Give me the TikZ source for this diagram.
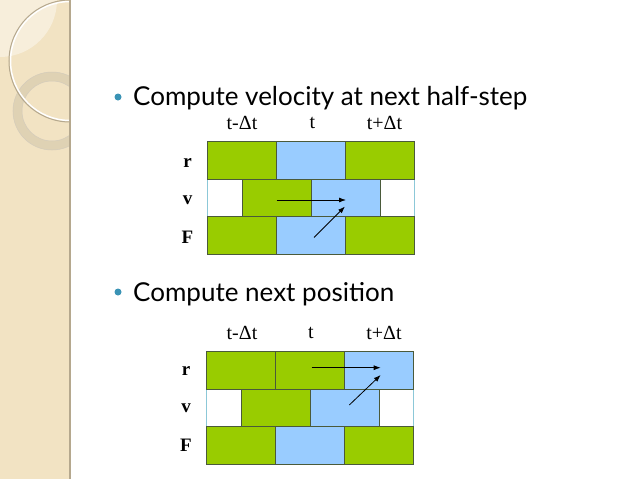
\documentclass[tikz,border=0pt]{standalone}
\usepackage{fontspec}
\setmainfont{Liberation Serif}
\newfontfamily\bulletfont{Lato}
\usetikzlibrary{arrows.meta}
\definecolor{cellGreen}{HTML}{99CC00}
\definecolor{cellBlue}{HTML}{99CCFF}
\definecolor{cellLine}{HTML}{4A5A3A}
\definecolor{tableEdge}{HTML}{8CC8D8}
\definecolor{strip}{HTML}{F2E3C3}
\definecolor{stripLight}{HTML}{F7EEDB}
\definecolor{stripEdge}{HTML}{B5A88E}
\definecolor{ringTan}{HTML}{D8CBAE}
\definecolor{bulletDot}{HTML}{3A93B5}
\tikzset{
  greenCell/.style={fill=cellGreen, draw=cellLine, line width=0.8pt},
  blueCell/.style={fill=cellBlue, draw=cellLine, line width=0.8pt},
  whiteCell/.style={fill=white, draw=tableEdge, line width=0.8pt},
  rowLab/.style={font=\fontsize{19}{19}\selectfont\bfseries},
  colLab/.style={font=\fontsize{20}{20}\selectfont},
  bulletText/.style={font=\bulletfont\fontsize{26}{26}\selectfont, anchor=base west, inner sep=0pt},
  flow/.style={-{Latex[length=7pt,width=5pt]}, line width=0.8pt, draw=black}
}

\begin{document}
\begin{tikzpicture}[x=1pt,y=-1pt]
\useasboundingbox (0,0) rectangle (638,479);
% side strip
\fill[strip] (0,0) rectangle (70,479);
\begin{scope}
\clip (0,0) rectangle (70,479);
\fill[stripLight] (0,0) circle (57);
\draw[ringTan, line width=9pt, opacity=0.7] (52,111) circle (34.5);
\draw[stripEdge!60, line width=0.5pt] (52,111) circle (39) (52,111) circle (30);
\draw[white, line width=1.5pt] (70,61) circle (59.5);
\draw[stripEdge, line width=1pt] (70,61) circle (61);
\end{scope}
\draw[stripEdge, line width=1.5pt] (70,0) -- (70,479);

% first bullet
\fill[bulletDot] (118,97) circle (3.5);
\node[bulletText] (headA) at (133,105) {Compute velocity at next half-step};

\begin{scope}[shift={(207.5,141.5)}]
% v row
\draw[whiteCell] (0,37.5) rectangle (35,75);
\draw[whiteCell] (173,37.5) rectangle (207,75);
\draw[greenCell] (35,37.5) rectangle (104,75);
\draw[blueCell] (104,37.5) rectangle (173,75);
% r row
\draw[greenCell] (0,0) rectangle (69,37.5);
\draw[blueCell] (69,0) rectangle (138,37.5);
\draw[greenCell] (138,0) rectangle (207,37.5);
% F row
\draw[greenCell] (0,75) rectangle (69,112.5);
\draw[blueCell] (69,75) rectangle (138,112.5);
\draw[greenCell] (138,75) rectangle (207,112.5);
\node[colLab] (colA1) at (34.5,-19) {t-Δt};
\node[colLab] (colA2) at (105,-19) {t};
\node[colLab] (colA3) at (177,-19) {t+Δt};
\node[rowLab] (rowAr) at (-20,21.5) {r};
\node[rowLab] (rowAv) at (-20,58.5) {v};
\node[rowLab] (rowAF) at (-20,96) {F};
\coordinate (velFromA) at (69,58.5);
\coordinate (velToA) at (138.5,58.5);
\coordinate (forFromA) at (106.5,96);
\coordinate (forToA) at (137.5,65);
\draw[flow] (velFromA) -- (velToA);
\draw[flow] (forFromA) -- (forToA);
\end{scope}

% second bullet
\fill[bulletDot] (118,292) circle (3.5);
\node[bulletText] (headB) at (133,301.5) {Compute next position};

\begin{scope}[shift={(206,351.5)}]
% v row
\draw[whiteCell] (0,37.5) rectangle (35,75);
\draw[whiteCell] (173,37.5) rectangle (207,75);
\draw[greenCell] (35,37.5) rectangle (104,75);
\draw[blueCell] (104,37.5) rectangle (173,75);
% r row
\draw[greenCell] (0,0) rectangle (69,37.5);
\draw[greenCell] (69,0) rectangle (138,37.5);
\draw[blueCell] (138,0) rectangle (207,37.5);
% F row
\draw[greenCell] (0,75) rectangle (69,112.5);
\draw[blueCell] (69,75) rectangle (138,112.5);
\draw[greenCell] (138,75) rectangle (207,112.5);
\node[colLab] (colB1) at (36,-19) {t-Δt};
\node[colLab] (colB2) at (105,-19) {t};
\node[colLab] (colB3) at (178,-19) {t+Δt};
\node[rowLab] (rowBr) at (-20,19) {r};
\node[rowLab] (rowBv) at (-20,57) {v};
\node[rowLab] (rowBF) at (-20,94) {F};
\coordinate (posFromB) at (105.7,16.2);
\coordinate (posToB) at (174.7,16.2);
\coordinate (velFromB) at (143.3,53.5);
\coordinate (velToB) at (174.7,23.5);
\draw[flow] (posFromB) -- (posToB);
\draw[flow] (velFromB) -- (velToB);
\end{scope}
\end{tikzpicture}
\end{document}
